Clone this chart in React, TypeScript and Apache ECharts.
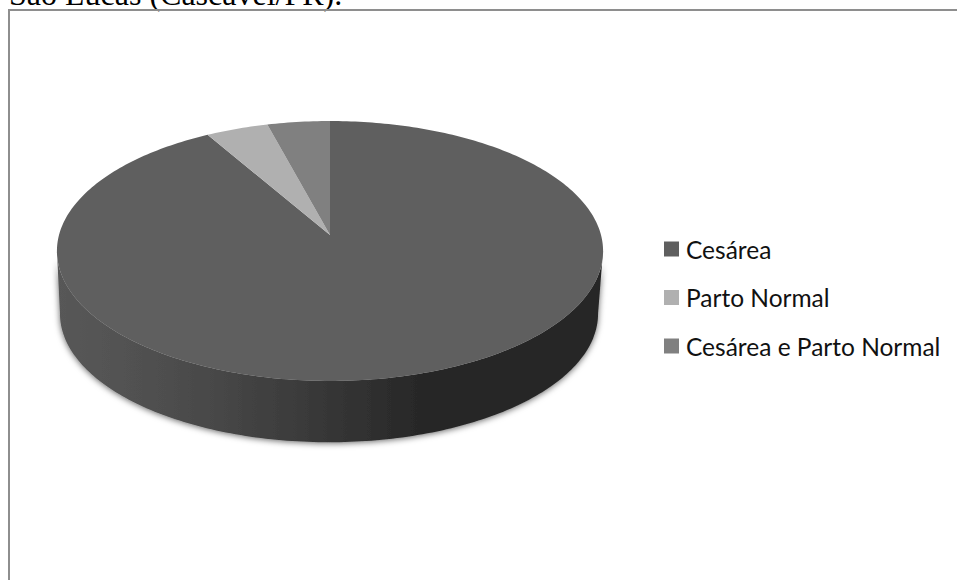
import React, { useEffect, useRef } from "react";
import * as echarts from "echarts";

const categories = ["Cesárea", "Parto Normal", "Cesárea e Parto Normal"];
const shares = [22, 1, 1];
const sliceColors = ["#5f5f5f", "#b0b0b0", "#808080"];
const caption = "São Lucas (Cascavel/PR).";

const TILT = -0.123; // perspective foreshortening of the disc
const TOP_DISC = { cx: 330, cy: 235, a: 271, b: 128 };
const BASE_DISC = { cx: 329, cy: 298, a: 267, b: 126.5 };
const TANGENT_DEG = 97; // where the side wall leaves the disc outline
const TAU = Math.PI * 2;

type Disc = typeof TOP_DISC;

// Projects a pie angle (degrees clockwise from 12 o'clock) onto a tilted disc.
function project(d: Disc, deg: number): number[] {
  const t = (deg * TAU) / 360;
  const u = Math.sin(t);
  const v = -Math.cos(t);
  const w = 1 + TILT * v;
  return [d.cx + (d.a * u) / w, d.cy + (d.b * v) / w];
}

function arc(d: Disc, from: number, to: number): number[][] {
  const pts: number[][] = [];
  const n = Math.max(2, Math.ceil(Math.abs(to - from)));
  for (let i = 0; i <= n; i++) pts.push(project(d, from + ((to - from) * i) / n));
  return pts;
}

const total = shares.reduce((s, v) => s + v, 0);
const spans = shares.map((_, i) => {
  const before = shares.slice(0, i).reduce((s, v) => s + v, 0);
  return [(before / total) * 360, ((before + shares[i]) / total) * 360];
});

const wallFill = new echarts.graphic.LinearGradient(0, 0, 1, 0, [
  { offset: 0, color: "#585858" },
  { offset: 0.2, color: "#4e4e4e" },
  { offset: 0.42, color: "#3d3d3d" },
  { offset: 0.52, color: "#343434" },
  { offset: 0.66, color: "#282828" },
  { offset: 1, color: "#272727" },
]);

function renderSlice(i: number) {
  return () => {
    const [start, end] = spans[i];
    const children: any[] = [];
    const wallFrom = Math.max(start, TANGENT_DEG);
    const wallTo = Math.min(end, 360 - TANGENT_DEG);
    if (wallTo > wallFrom) {
      children.push({
        type: "polygon",
        shape: {
          points: [
            ...arc(BASE_DISC, wallFrom, wallTo),
            ...arc(TOP_DISC, wallTo, wallFrom),
          ],
        },
        style: {
          fill: wallFill,
          shadowBlur: 6,
          shadowColor: "rgba(0,0,0,0.6)",
          shadowOffsetY: 1,
        },
      });
    }
    children.push({
      type: "polygon",
      shape: {
        points: [[TOP_DISC.cx, TOP_DISC.cy], ...arc(TOP_DISC, start, end)],
      },
      style: { fill: sliceColors[i] },
    });
    return { type: "group", children };
  };
}

export default function App() {
  const ref = useRef<HTMLDivElement>(null);

  useEffect(() => {
    const chart = echarts.init(ref.current!, null, { renderer: "svg" });
    chart.setOption({
      animation: false,
      backgroundColor: "#ffffff",
      legend: {
        orient: "vertical",
        left: 664,
        top: 236.5,
        itemWidth: 15,
        itemHeight: 15,
        itemGap: 23.5,
        icon: "rect",
        selectedMode: false,
        padding: 0,
        data: categories,
        textStyle: {
          fontFamily: "Lato",
          fontSize: 24.5,
          lineHeight: 15,
          color: "#111111",
          padding: [0, 0, 0, 2],
        },
      },
      graphic: [
        {
          type: "text",
          x: 9,
          y: 10,
          style: {
            text: caption,
            font: '32px "Liberation Serif"',
            fill: "#000000",
            verticalAlign: "bottom",
          },
        },
        {
          type: "polyline",
          shape: {
            points: [
              [9, 580],
              [9, 10],
              [957, 10],
            ],
          },
          style: { stroke: "#8e8e8e", lineWidth: 2, fill: "none" },
        },
      ],
      series: categories.map((name, i) => ({
        type: "custom",
        name,
        coordinateSystem: "none",
        itemStyle: { color: sliceColors[i] },
        data: [[shares[i]]],
        renderItem: renderSlice(i),
        silent: true,
      })),
    });
    return () => chart.dispose();
  }, []);

  return (
    <div
      ref={ref}
      style={{ position: "absolute", left: 0, top: 0, width: 957, height: 580 }}
    />
  );
}
